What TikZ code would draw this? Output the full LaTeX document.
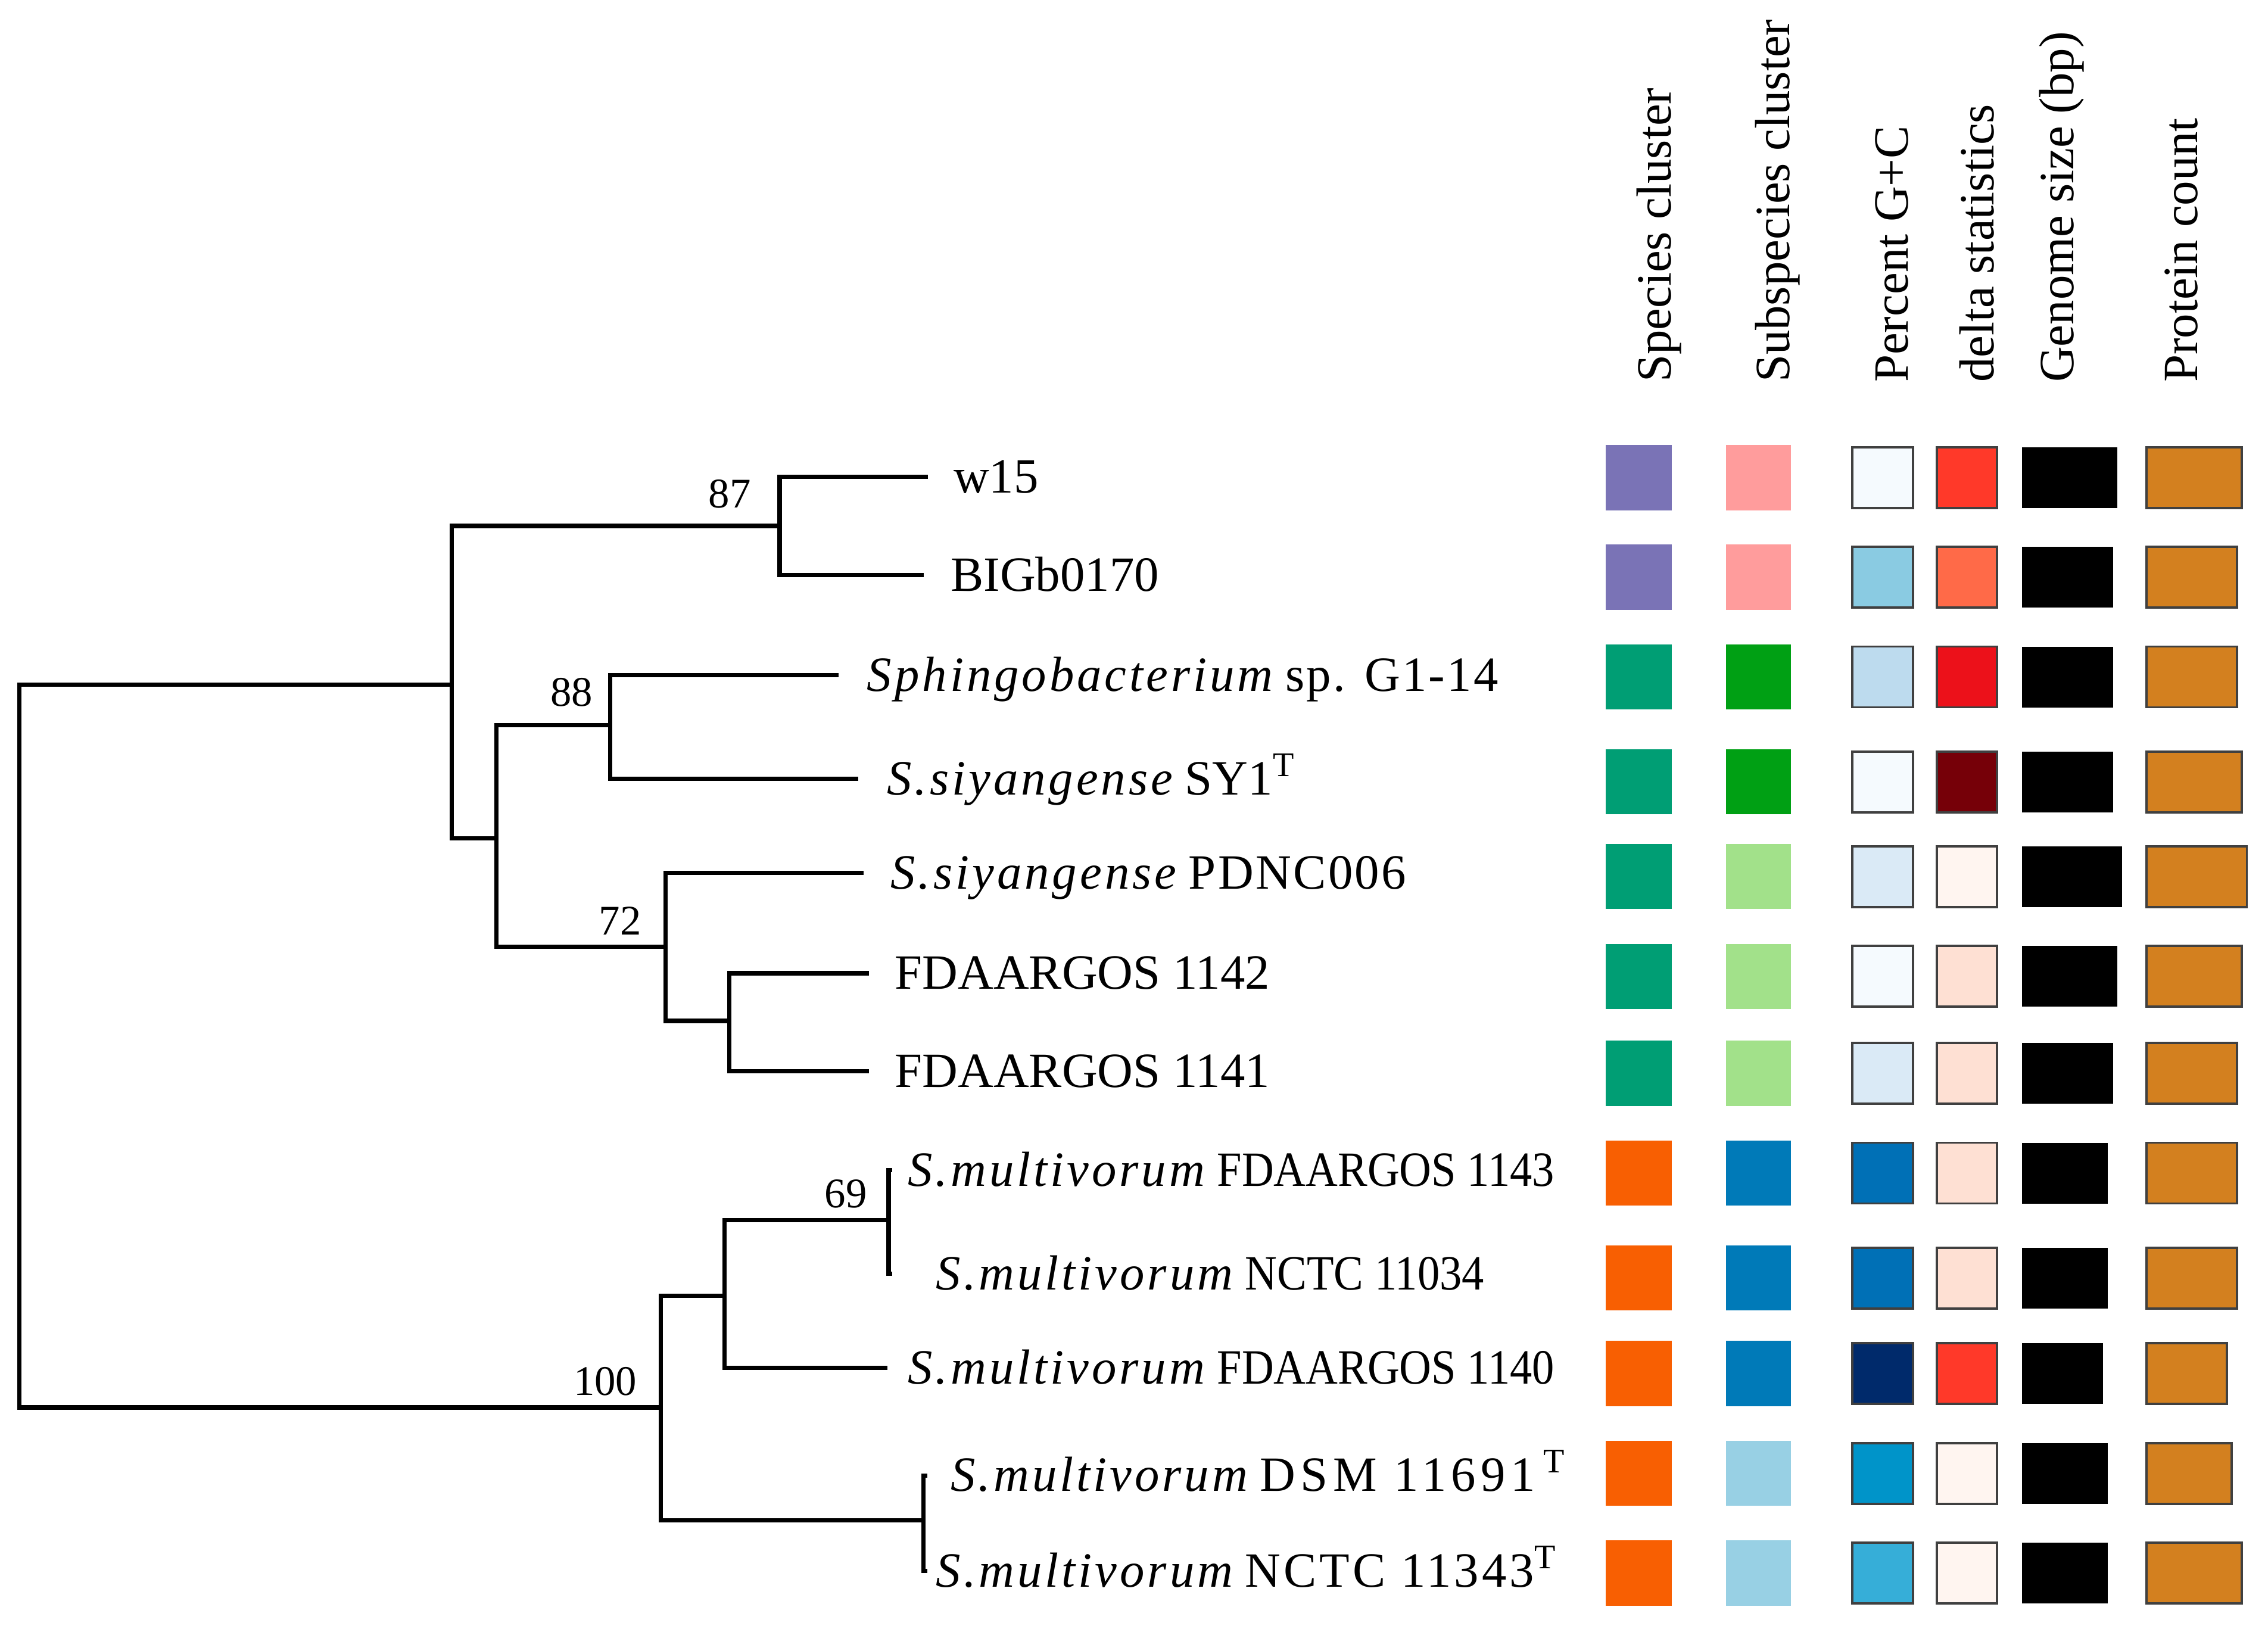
\documentclass[tikz,border=0pt]{standalone}
\usepackage{fontspec}
\setmainfont{Liberation Serif}
\newfontfamily\spfam[LetterSpace=6]{Liberation Serif}
\newfontfamily\widefam[LetterSpace=10]{Liberation Serif}
\newfontfamily\midfam[LetterSpace=4]{Liberation Serif}
\newfontfamily\cndfam[FakeStretch=0.9]{Liberation Serif}
\newcommand{\taxon}[1]{{\spfam\itshape #1}}
\newcommand{\typestr}{\,\textsuperscript{T}}

% species / subspecies clusters
\definecolor{spPurple}{HTML}{7A73B6}
\definecolor{spTeal}{HTML}{009E74}
\definecolor{spOrange}{HTML}{F85F02}
\definecolor{ssPink}{HTML}{FF9C9C}
\definecolor{ssGreen}{HTML}{00A014}
\definecolor{ssLtGreen}{HTML}{A2E18A}
\definecolor{ssBlue}{HTML}{007AB8}
\definecolor{ssLtBlue}{HTML}{98D0E4}
% percent G+C
\definecolor{gcA}{HTML}{F5FAFE}
\definecolor{gcB}{HTML}{8ACBE2}
\definecolor{gcC}{HTML}{BDDBEE}
\definecolor{gcD}{HTML}{DAEAF6}
\definecolor{gcE}{HTML}{0070B6}
\definecolor{gcF}{HTML}{002A6B}
\definecolor{gcG}{HTML}{0094C9}
\definecolor{gcH}{HTML}{36AED8}
% delta statistics
\definecolor{dlA}{HTML}{FF3929}
\definecolor{dlB}{HTML}{FF6A48}
\definecolor{dlC}{HTML}{EC111A}
\definecolor{dlD}{HTML}{760008}
\definecolor{dlE}{HTML}{FFF5F0}
\definecolor{dlF}{HTML}{FEE0D3}
\definecolor{prot}{HTML}{D3801F}

\begin{document}
\begin{tikzpicture}[x=0.1mm,y=-0.1mm,
	branch/.style={line width=0.85pt},
	leaf/.style={anchor=base west,inner sep=0pt,font=\fontsize{9.7}{11}\selectfont},
	boot/.style={anchor=base east,inner sep=0pt,font=\fontsize{8.3}{10}\selectfont},
	colhead/.style={rotate=90,anchor=base west,inner sep=0pt,font=\fontsize{9.7}{11}\selectfont},
	cell/.style={draw=black!75,line width=0.45pt}]
	\useasboundingbox (0,0) rectangle (1568,1128);
	
	% inner nodes of the tree
	\coordinate (root) at (13.4,723);
	\coordinate (a) at (312.2,473.4);
	\coordinate (n87) at (539,363.6);
	\coordinate (c) at (343.3,579.5);
	\coordinate (n88) at (421.8,501.2);
	\coordinate (n72) at (460,654.4);
	\coordinate (d) at (504.2,705.8);
	\coordinate (n100) at (456.7,973);
	\coordinate (e) at (500.8,895.7);
	\coordinate (n69) at (614.3,843.4);
	\coordinate (f) at (638.5,1051);
	
	% tips
	\coordinate (lw15) at (641.6,329.7);
	\coordinate (lbig) at (638.7,397.5);
	\coordinate (lsph) at (579.8,466.8);
	\coordinate (lsy1) at (593.3,538.5);
	\coordinate (lpdnc) at (597,603.5);
	\coordinate (l1142) at (600.8,672.8);
	\coordinate (l1141) at (600.8,740.7);
	\coordinate (l1143) at (617,809);
	\coordinate (l11034) at (617,880.7);
	\coordinate (l1140) at (613.4,945.7);
	\coordinate (ldsm) at (641,1020);
	\coordinate (l11343) at (641,1086);
	
	\draw[branch] (root) |- (a);
	\draw[branch] (root) |- (n100);
	\draw[branch] (a) |- (n87);
	\draw[branch] (a) |- (c);
	\draw[branch] (n87) |- (lw15);
	\draw[branch] (n87) |- (lbig);
	\draw[branch] (c) |- (n88);
	\draw[branch] (c) |- (n72);
	\draw[branch] (n88) |- (lsph);
	\draw[branch] (n88) |- (lsy1);
	\draw[branch] (n72) |- (lpdnc);
	\draw[branch] (n72) |- (d);
	\draw[branch] (d) |- (l1142);
	\draw[branch] (d) |- (l1141);
	\draw[branch] (n100) |- (e);
	\draw[branch] (n100) |- (f);
	\draw[branch] (e) |- (n69);
	\draw[branch] (e) |- (l1140);
	\draw[branch] (n69) |- (l1143);
	\draw[branch] (n69) |- (l11034);
	\draw[branch] (f) |- (ldsm);
	\draw[branch] (f) |- (l11343);
	
	% bootstrap values
	\node[boot] (b87) at (519.7,350.9) {87};
	\node[boot] (b88) at (410.5,488.2) {88};
	\node[boot] (b72) at (444,646.4) {72};
	\node[boot] (b69) at (600,835) {69};
	\node[boot] (b100) at (441,964.5) {100};
	
	% strain names
	\node[leaf] (tw15) at (658.6,340.7) {w15};
	\node[leaf] (tbig) at (656.6,408.5) {BIGb0170};
	\node[leaf] (tsph) at (598.8,477.8) {\taxon{Sphingobacterium} {\midfam sp. G1-14}};
	\node[leaf] (tsy1) at (612.5,549.5) {\taxon{S.siyangense} SY1\textsuperscript{T}};
	\node[leaf] (tpdnc) at (615,614.5) {\taxon{S.siyangense} {\midfam PDNC006}};
	\node[leaf] (t1142) at (618,683.8) {FDAARGOS 1142};
	\node[leaf] (t1141) at (618,751.7) {FDAARGOS 1141};
	\node[leaf] (t1143) at (627,820) {\taxon{S.multivorum} {\cndfam FDAARGOS 1143}};
	\node[leaf] (t11034) at (646.5,891.7) {\taxon{S.multivorum} {\cndfam NCTC 11034}};
	\node[leaf] (t1140) at (627,956.7) {\taxon{S.multivorum} {\cndfam FDAARGOS 1140}};
	\node[leaf] (tdsm) at (656.7,1031) {\taxon{S.multivorum} {\widefam DSM 11691}\typestr};
	\node[leaf] (t11343) at (646.5,1097) {\taxon{S.multivorum} {\spfam NCTC 11343}\textsuperscript{T}};
	
	% column heads
	\node[colhead] (hsp) at (1155,265) {Species cluster};
	\node[colhead] (hssp) at (1237,265) {Subspecies cluster};
	\node[colhead] (hgc) at (1319,265) {Percent G+C};
	\node[colhead] (hdl) at (1378.5,265) {delta statistics};
	\node[colhead] (hgs) at (1433.5,265) {Genome size (bp)};
	\node[colhead] (hpc) at (1519,265) {Protein count};
	
	% heat map
	\foreach \yc/\cs/\css/\cg/\cd/\gw/\pw in {
		330.2/spPurple/ssPink/gcA/dlA/1463.9/1550,
		399/spPurple/ssPink/gcB/dlB/1460.8/1546.7,
		468/spTeal/ssGreen/gcC/dlC/1460.8/1546.7,
		540.5/spTeal/ssGreen/gcA/dlD/1460.8/1550,
		606/spTeal/ssLtGreen/gcD/dlE/1467.3/1553.4,
		675/spTeal/ssLtGreen/gcA/dlF/1463.9/1550,
		742/spTeal/ssLtGreen/gcD/dlF/1460.8/1546.7,
		811/spOrange/ssBlue/gcE/dlF/1457.2/1546.7,
		883.5/spOrange/ssBlue/gcE/dlF/1457.2/1546.7,
		949.5/spOrange/ssBlue/gcF/dlA/1453.8/1539.7,
		1018.6/spOrange/ssLtBlue/gcG/dlE/1457.2/1543,
		1087.5/spOrange/ssLtBlue/gcH/dlE/1457.2/1550}{
		\fill[\cs] (1110.2,\yc-22.5) rectangle (1155.7,\yc+22.5);
		\fill[\css] (1193.3,\yc-22.5) rectangle (1238.3,\yc+22.5);
		\filldraw[cell,fill=\cg] (1280.7,\yc-21) rectangle (1322.6,\yc+21);
		\filldraw[cell,fill=\cd] (1339.2,\yc-21) rectangle (1380.7,\yc+21);
		\fill[black] (1397.8,\yc-21) rectangle (\gw,\yc+21);
		\filldraw[cell,fill=prot] (1484,\yc-21) rectangle (\pw,\yc+21);
	}
\end{tikzpicture}
\end{document}
